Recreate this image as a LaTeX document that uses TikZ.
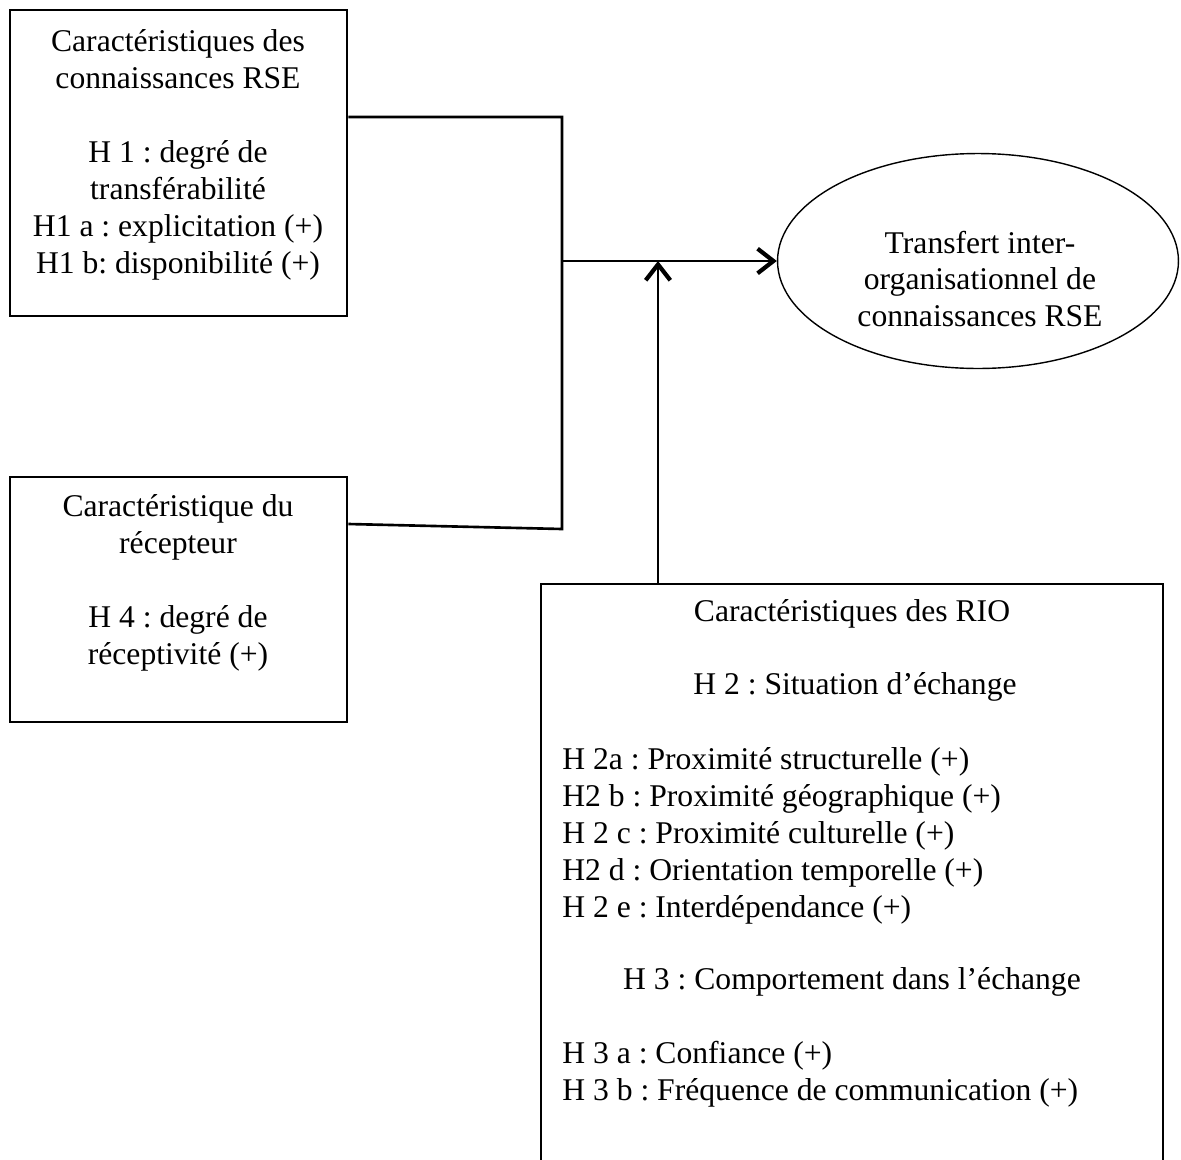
\documentclass[tikz,border=0pt]{standalone}
\usepackage{fontspec}
\setmainfont{Liberation Serif}
\usetikzlibrary{shapes.geometric, positioning, arrows.meta}

\begin{document}
\frenchspacing
\begin{tikzpicture}[x=0.02cm, y=-0.02cm,
	box/.style={draw, line width=1.5pt, rectangle, inner sep=0pt},
	txt/.style={font=\fontsize{18}{21}\selectfont, inner sep=0pt},
	link/.style={line width=1.5pt},
	flow/.style={line width=1.5pt, -{Straight Barb[length=9pt, width=14pt, line width=2.4pt]}}]
					\useasboundingbox (0,0) rectangle (1181,1160);
					\clip (0,0) rectangle (1181,1160);

					% boxes
					\node[box, minimum width=6.74cm, minimum height=6.12cm] (rse) at (178.5,163) {};
					\node[box, minimum width=6.74cm, minimum height=4.9cm] (recept) at (178.5,599.5) {};
					\node[box, minimum width=12.44cm, minimum height=12.4cm] (rio) at (852,894) {};
					\node[ellipse, draw, line width=0.8pt, minimum width=8.02cm, minimum height=4.3cm, inner sep=0pt] (transfert) at (978,261) {};

					% texts
					\node[txt, align=center] (rsetext) at (178,155) {Caractéristiques des\\connaissances RSE\\[21pt]H 1 : degré de\\transférabilité\\H1 a : explicitation (+)\\H1 b: disponibilité (+)};
					\node[txt, align=center] (recepttext) at (178,583) {Caractéristique du\\récepteur\\[21pt]H 4 : degré de\\réceptivité (+)};
					\node[txt, align=center] (transferttext) at (980,279) {Transfert inter-\\organisationnel de\\connaissances RSE};
					\node[txt] (riotitle) at (852,614) {Caractéristiques des RIO};
					\node[txt] (h2) at (855,687) {H 2 : Situation d’échange};
					\node[txt, align=left, anchor=west] (h2list) at (562,836) {H 2a : Proximité structurelle (+)\\H2 b : Proximité géographique (+)\\H 2 c : Proximité culturelle (+)\\H2 d : Orientation temporelle (+)\\H 2 e : Interdépendance (+)};
					\node[txt] (h3) at (852,982) {H 3 : Comportement dans l’échange};
					\node[txt, align=left, anchor=west] (h3list) at (562,1074) {H 3 a : Confiance (+)\\H 3 b : Fréquence de communication (+)};

					% connectors
					\coordinate (joint) at (562,261);
					\coordinate (meet) at (658,261);
					\draw[link] (rse.east |- 0,117) -- (562,117) -- (562,529) -- (recept.east |- 0,524);
					\draw[flow] (joint) -- (transfert.west);
					\draw[flow] (rio.north -| meet) -- (meet);
				\end{tikzpicture}
\end{document}
